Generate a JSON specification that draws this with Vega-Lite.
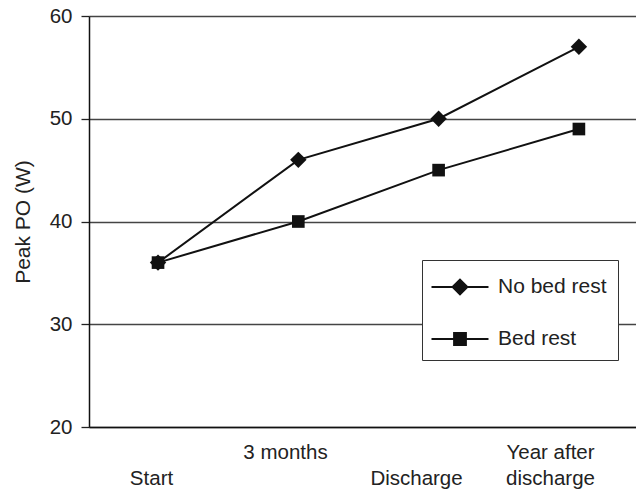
{
  "$schema": "https://vega.github.io/schema/vega-lite/v6.json",
  "autosize": {"type": "none"},
  "padding": {"left": 89, "top": 16, "right": 0, "bottom": 63},
  "width": 547,
  "height": 411,
  "background": "white",
  "config": {
    "view": {"stroke": null},
    "font": "Liberation Sans"
  },
  "data": {
    "values": [
      {"time": "Start", "step": 0, "group": "No bed rest", "peak": 36},
      {"time": "3 months", "step": 1, "group": "No bed rest", "peak": 46},
      {"time": "Discharge", "step": 2, "group": "No bed rest", "peak": 50},
      {"time": "Year after discharge", "step": 3, "group": "No bed rest", "peak": 57},
      {"time": "Start", "step": 0, "group": "Bed rest", "peak": 36},
      {"time": "3 months", "step": 1, "group": "Bed rest", "peak": 40},
      {"time": "Discharge", "step": 2, "group": "Bed rest", "peak": 45},
      {"time": "Year after discharge", "step": 3, "group": "Bed rest", "peak": 49}
    ]
  },
  "encoding": {
    "x": {
      "field": "step",
      "type": "quantitative",
      "scale": {"domain": [-0.492, 3.407], "nice": false, "zero": false},
      "axis": {
        "title": null,
        "values": [-0.05, 0.905, 1.839, 2.794],
        "grid": false,
        "ticks": false,
        "tickSize": 0,
        "domainColor": "#111",
        "domainWidth": 1.5,
        "labelFont": "Liberation Sans",
        "labelFontSize": 20.5,
        "labelColor": "#222",
        "labelBaseline": "alphabetic",
        "labelLineHeight": 26,
        "labelPadding": 31,
        "labelOverlap": false,
        "labelFlush": false,
        "labelBound": false,
        "labelExpr": "datum.value < 0.5 ? ['', 'Start'] : datum.value < 1.5 ? ['3 months'] : datum.value < 2.5 ? ['', 'Discharge'] : ['Year after', 'discharge']"
      }
    },
    "y": {
      "field": "peak",
      "type": "quantitative",
      "scale": {"domain": [20, 60], "nice": false, "zero": false},
      "axis": {
        "title": "Peak PO (W)",
        "titleFont": "Liberation Sans",
        "titleFontSize": 21,
        "titleFontWeight": "normal",
        "titleColor": "#222",
        "titlePadding": 16,
        "values": [20, 30, 40, 50, 60],
        "grid": true,
        "gridColor": "#444",
        "gridWidth": 1.3,
        "tickSize": 8,
        "tickColor": "#222",
        "tickWidth": 1.3,
        "domainColor": "#111",
        "domainWidth": 1.5,
        "labelFont": "Liberation Sans",
        "labelFontSize": 20.5,
        "labelColor": "#222",
        "labelPadding": 9
      }
    }
  },
  "layer": [
    {
      "mark": {"type": "line", "strokeWidth": 2},
      "encoding": {
        "color": {
          "field": "group",
          "type": "nominal",
          "scale": {"domain": ["No bed rest", "Bed rest"], "range": ["#111111", "#111111"]},
          "legend": {
            "title": null,
            "orient": "none",
            "legendX": 333,
            "legendY": 244,
            "padding": 11,
            "rowPadding": 24,
            "symbolSize": 900,
            "symbolStrokeWidth": 1.8,
            "symbolFillColor": "#111111",
            "labelOffset": 33,
            "labelFont": "Liberation Sans",
            "labelFontSize": 21,
            "labelColor": "#222",
            "labelLimit": 400,
            "labelExpr": "datum.label + '\u00a0\u00a0\u00a0'",
            "strokeColor": "#333",
            "fillColor": "white",
            "encode": {
              "symbols": {
                "update": {
                  "shape": {"signal": "datum.value === 'No bed rest' ? 'M-1.167,0H2.633M0.233,0L0.733,-0.5L1.233,0L0.733,0.5Z' : 'M-1.167,0H2.633M0.333,-0.4H1.133V0.4H0.333Z'"},
                  "fill": {"value": "#111111"},
                  "stroke": {"value": "#111111"},
                  "strokeWidth": {"value": 1.8},
                  "opacity": {"value": 1}
                }
              }
            }
          }
        }
      }
    },
    {
      "transform": [{"filter": "datum.group === 'No bed rest'"}],
      "mark": {"type": "point", "filled": true, "opacity": 1, "color": "#111111", "shape": "diamond", "size": 270}
    },
    {
      "transform": [{"filter": "datum.group === 'Bed rest'"}],
      "mark": {"type": "point", "filled": true, "opacity": 1, "color": "#111111", "shape": "square", "size": 160}
    }
  ]
}
